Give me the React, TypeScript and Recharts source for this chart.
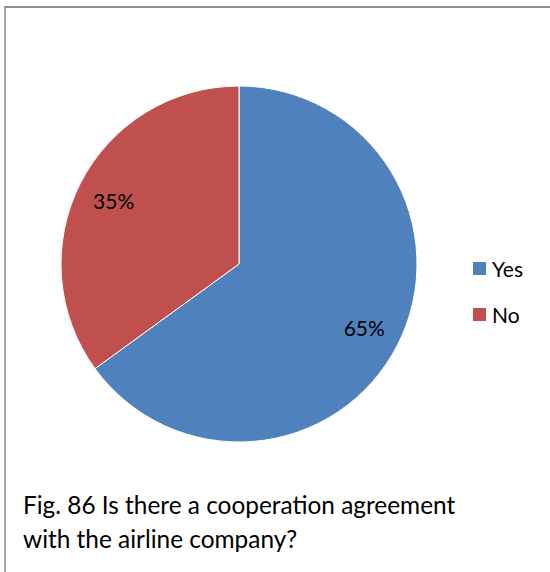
import { Cell, Legend, Pie, PieChart } from 'recharts'

const categories = ['Yes', 'No']
const shares = [65, 35]
const colors = ['#4f81bd', '#c0504d']

const data = categories.map((name, i) => ({ name, value: shares[i] }))

const RADIAN = Math.PI / 180

function renderLabel(props: any) {
	const { cx, cy, midAngle, outerRadius, value } = props
	const r = outerRadius * 0.79
	const x = cx + r * Math.cos(-midAngle * RADIAN)
	const y = cy + r * Math.sin(-midAngle * RADIAN)
	return (
		<text
			x={x}
			y={y}
			textAnchor='middle'
			dominantBaseline='central'
			fill='#000'
			fontSize={21}
			fontFamily='Lato, sans-serif'
		>
			{`${value}%`}
		</text>
	)
}

function renderLegend(props: any) {
	// keep legend in data order (Yes first)
	const payload = [...(props.payload || [])].sort(
		(a: any, b: any) => categories.indexOf(a.value) - categories.indexOf(b.value)
	)
	return (
		<div style={{ fontFamily: 'Lato, sans-serif', fontSize: 21 }}>
			{payload.map((entry: any) => (
				<div
					key={entry.value}
					style={{ display: 'flex', alignItems: 'center', height: 46 }}
				>
					<span
						style={{
							display: 'inline-block',
							width: 13,
							height: 13,
							background: entry.color,
							marginRight: 6
						}}
					/>
					<span style={{ color: '#000' }}>{entry.value}</span>
				</div>
			))}
		</div>
	)
}

export default function App() {
	return (
		<div
			style={{
				position: 'fixed',
				top: 0,
				left: 0,
				width: 550,
				height: 572,
				background: '#fff',
				overflow: 'hidden'
			}}
		>
			<div
				style={{
					position: 'absolute',
					top: 6,
					left: 4,
					right: 0,
					bottom: 0,
					borderTop: '2px solid #8f8f8f',
					borderLeft: '2px solid #a8a8a8'
				}}
			/>
			<PieChart
				width={550}
				height={480}
				margin={{ top: 0, right: 0, bottom: 0, left: 0 }}
				style={{ position: 'absolute', top: 0, left: 0 }}
			>
				<Pie
					data={data}
					dataKey='value'
					nameKey='name'
					cx={239}
					cy={264}
					outerRadius={178}
					startAngle={90}
					endAngle={-270}
					stroke='#fff'
					strokeWidth={1}
					label={renderLabel}
					labelLine={false}
					isAnimationActive={false}
				>
					{data.map((d, i) => (
						<Cell key={d.name} fill={colors[i]} />
					))}
				</Pie>
				<Legend
					content={renderLegend}
					wrapperStyle={{ position: 'absolute', left: 473, top: 245, width: 80 }}
				/>
			</PieChart>
			<div
				style={{
					position: 'absolute',
					left: 23,
					top: 488,
					fontFamily: 'Lato, sans-serif',
					fontSize: 24.4,
					lineHeight: '34px',
					color: '#000',
					width: 520
				}}
			>
				Fig. 86 Is there a cooperation agreement
				<br />
				with the airline company?
			</div>
		</div>
	)
}
